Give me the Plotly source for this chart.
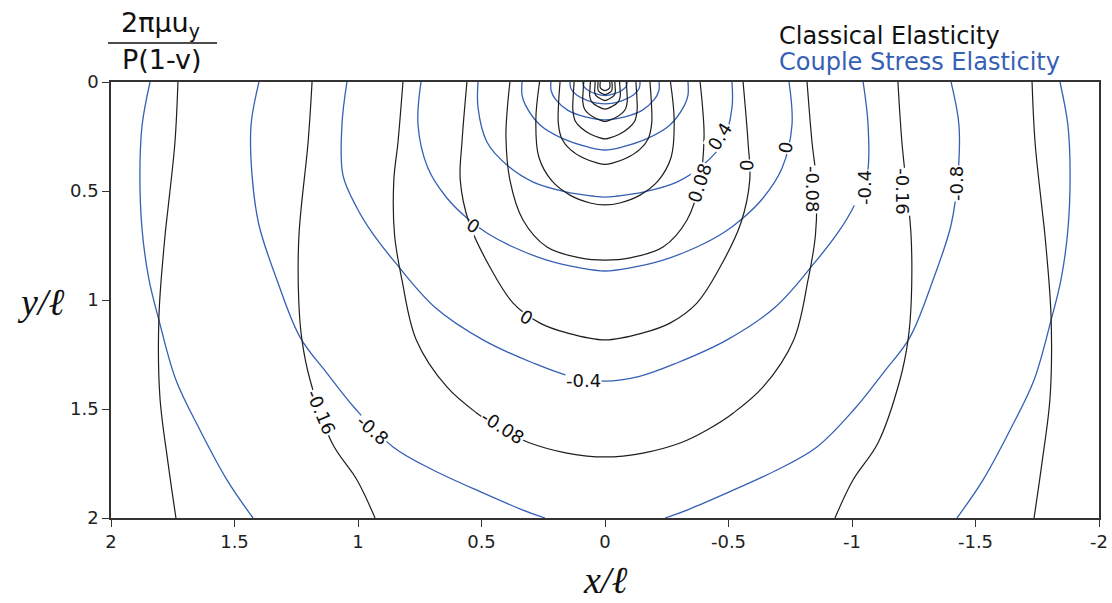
import plotly.graph_objects as go

# ---------------- data ----------------
# Each contour is a half-profile: (depth y/l, half-width |x|/l); curves are symmetric about x = 0.
x_ticks = [2, 1.5, 1, 0.5, 0, -0.5, -1, -1.5, -2]
x_tick_labels = ["2", "1.5", "1", "0.5", "0", "-0.5", "-1", "-1.5", "-2"]
y_ticks = [0, 0.5, 1, 1.5, 2]
y_tick_labels = ["0", "0.5", "1", "1.5", "2"]

# Classical elasticity contours (black)
classical_m024 = [(0, 1.729), (0.275, 1.741), (0.578, 1.769), (0.702, 1.781), (1.078, 1.806),
                  (1.445, 1.802), (1.748, 1.769), (2.0, 1.737)]
classical_m016 = [(0, 1.186), (0.275, 1.202), (0.702, 1.239), (1.0, 1.240), (1.183, 1.227),
                  (1.367, 1.194), (1.656, 1.105), (1.826, 1.004), (2.0, 0.931)]
classical_m008 = [(0, 0.818), (0.275, 0.838), (0.450, 0.855), (0.702, 0.852), (0.908, 0.822),
                  (1.183, 0.764), (1.399, 0.640), (1.518, 0.520), (1.596, 0.413), (1.656, 0.304),
                  (1.702, 0.154), (1.720, 0)]
classical_000 = [(0, 0.559), (0.275, 0.579), (0.450, 0.586), (0.647, 0.550), (0.849, 0.466),
                 (1.014, 0.372), (1.106, 0.263), (1.151, 0.154), (1.183, 0)]
classical_p008 = [(0, 0.385), (0.130, 0.396), (0.252, 0.401), (0.450, 0.385), (0.633, 0.332),
                  (0.757, 0.235), (0.807, 0.101), (0.817, 0)]
classical_p016 = [(0, 0.265), (0.174, 0.280), (0.344, 0.268), (0.455, 0.214), (0.520, 0.140),
                  (0.555, 0.060), (0.564, 0)]
classical_p024 = [(0, 0.182), (0.10, 0.188), (0.19, 0.189), (0.26, 0.175), (0.31, 0.140),
                  (0.35, 0.085), (0.372, 0.030), (0.378, 0)]
classical_p032 = [(0, 0.125), (0.07, 0.129), (0.13, 0.130), (0.18, 0.120), (0.21, 0.097),
                  (0.24, 0.058), (0.256, 0.020), (0.261, 0)]
classical_p040 = [(0, 0.086), (0.05, 0.089), (0.09, 0.090), (0.124, 0.083), (0.145, 0.067),
                  (0.165, 0.040), (0.177, 0.014), (0.181, 0)]
classical_p048 = [(0, 0.059), (0.034, 0.061), (0.062, 0.062), (0.085, 0.057), (0.100, 0.046),
                  (0.113, 0.027), (0.122, 0.010), (0.124, 0)]
classical_p056 = [(0, 0.040), (0.023, 0.041), (0.042, 0.042), (0.058, 0.039), (0.068, 0.031),
                  (0.077, 0.018), (0.083, 0.007), (0.085, 0)]
classical_p064 = [(0, 0.028), (0.016, 0.029), (0.030, 0.029), (0.040, 0.027), (0.047, 0.021),
                  (0.053, 0.012), (0.058, 0)]
classical_p072 = [(0, 0.019), (0.011, 0.020), (0.021, 0.020), (0.028, 0.018), (0.034, 0.012),
                  (0.040, 0)]

# Couple stress elasticity contours (blue)
couple_m12 = [(0, 1.842), (0.197, 1.874), (0.427, 1.883), (0.679, 1.874), (0.908, 1.846),
              (1.092, 1.806), (1.367, 1.737), (1.596, 1.640), (1.826, 1.530), (2.0, 1.425)]
couple_m08 = [(0, 1.401), (0.197, 1.433), (0.427, 1.429), (0.656, 1.401), (0.908, 1.328),
              (1.170, 1.235), (1.335, 1.126), (1.500, 1.010), (1.674, 0.858), (1.780, 0.696),
              (1.885, 0.494), (1.960, 0.340), (2.0, 0.243)]
couple_m04 = [(0, 1.045), (0.197, 1.065), (0.427, 1.061), (0.578, 1.004), (0.688, 0.945),
              (0.830, 0.848), (1.032, 0.690), (1.183, 0.494), (1.289, 0.291), (1.350, 0.140),
              (1.372, 0)]
couple_000 = [(0, 0.745), (0.197, 0.757), (0.394, 0.717), (0.532, 0.640), (0.624, 0.559),
              (0.693, 0.478), (0.757, 0.372), (0.817, 0.235), (0.853, 0.101), (0.867, 0)]
couple_p04 = [(0, 0.514), (0.119, 0.514), (0.275, 0.478), (0.381, 0.397), (0.459, 0.291),
              (0.505, 0.154), (0.523, 0.050), (0.528, 0)]
couple_p08 = [(0, 0.336), (0.060, 0.336), (0.106, 0.322), (0.197, 0.263), (0.260, 0.170),
              (0.298, 0.070), (0.312, 0)]
couple_p12 = [(0, 0.219), (0.040, 0.218), (0.080, 0.200), (0.130, 0.150), (0.160, 0.080),
              (0.174, 0)]
couple_p16 = [(0, 0.142), (0.030, 0.138), (0.060, 0.115), (0.085, 0.070), (0.100, 0)]
couple_p20 = [(0, 0.090), (0.020, 0.086), (0.040, 0.066), (0.055, 0.035), (0.062, 0)]

classical_contours = [classical_m024, classical_m016, classical_m008, classical_000,
                      classical_p008, classical_p016, classical_p024, classical_p032,
                      classical_p040, classical_p048, classical_p056, classical_p064,
                      classical_p072]
couple_contours = [couple_m12, couple_m08, couple_m04, couple_000, couple_p04, couple_p08,
                   couple_p12, couple_p16, couple_p20]

# inline contour labels: (text, x/l, y/l, angle)
classical_labels = [("0.08", -0.385, 0.463, -72), ("0", -0.575, 0.385, -88),
                    ("-0.08", -0.838, 0.495, 90), ("-0.16", -1.206, 0.505, 90),
                    ("0", 0.316, 1.078, 30), ("-0.08", 0.413, 1.587, 32),
                    ("-0.16", 1.150, 1.518, 67)]
couple_labels = [("0.4", -0.466, 0.252, -58), ("0", -0.729, 0.303, -80),
                 ("-0.4", -1.053, 0.486, -90), ("-0.8", -1.425, 0.463, -90),
                 ("0", 0.534, 0.656, 32), ("-0.4", 0.089, 1.367, 0),
                 ("-0.8", 0.943, 1.596, 41)]

BLACK = "#1e1e1e"
BLUE = "#3560b5"
FONT = "DejaVu Sans"

# plot-area geometry in window pixels
L, R, T, B = 111, 1099, 82, 518
FIG_W, FIG_H = 1112, 603


def px_to_paper(px, py):
    return (px - L) / (R - L), (B - py) / (B - T)


def build_curve(profile):
    ys = [p[0] for p in profile]
    ws = [p[1] for p in profile]
    if ws[-1] == 0:  # closed around the load point
        xs = ws + [-w for w in ws[::-1][1:]]
        yy = ys + ys[::-1][1:]
    else:  # leaves through the bottom edge: two branches
        xs = ws + [None] + [-w for w in ws]
        yy = ys + [None] + ys
    return xs, yy


fig = go.Figure()
for prof in couple_contours:
    xs, yy = build_curve(prof)
    fig.add_trace(go.Scatter(x=xs, y=yy, mode="lines",
                             line=dict(color=BLUE, width=1.3, shape="spline", smoothing=1.0),
                             hoverinfo="skip", showlegend=False))
for prof in classical_contours:
    xs, yy = build_curve(prof)
    fig.add_trace(go.Scatter(x=xs, y=yy, mode="lines",
                             line=dict(color=BLACK, width=1.2, shape="spline", smoothing=1.0),
                             hoverinfo="skip", showlegend=False))

annotations = []
for txt, xv, yv, ang in classical_labels + couple_labels:
    annotations.append(dict(x=xv, y=yv, xref="x", yref="y", text=txt, showarrow=False,
                            textangle=ang, font=dict(family=FONT, size=18, color="#111"),
                            bgcolor="white", borderpad=0))


def free_text(txt, px, py, size, color="#111", anchor="center", family=FONT):
    xp, yp = px_to_paper(px, py)
    return dict(xref="paper", yref="paper", x=xp, y=yp, xanchor=anchor, yanchor="middle",
                text=txt, showarrow=False, font=dict(family=family, size=size, color=color))


annotations += [
    free_text("Classical Elasticity", 777, 36, 24, "#111", "left"),
    free_text("Couple Stress Elasticity", 777, 62, 24, BLUE, "left"),
    free_text("2πμu<sub>y</sub>", 160, 24, 27),
    free_text("P(1-v)", 162, 60, 27),
    free_text("<i>y/ℓ</i>", 40, 302, 38, family="Liberation Serif"),
    free_text("<i>x/ℓ</i>", 605, 580, 38, family="Liberation Serif"),
]

lx0, ly = px_to_paper(108, 43)
lx1, _ = px_to_paper(217, 43)
shapes = [dict(type="line", xref="paper", yref="paper", x0=lx0, x1=lx1, y0=ly, y1=ly,
               line=dict(color="#111", width=1.6))]

fig.update_layout(
    width=FIG_W, height=FIG_H,
    margin=dict(l=L, r=FIG_W - R, t=T, b=FIG_H - B),
    paper_bgcolor="white", plot_bgcolor="white",
    annotations=annotations, shapes=shapes,
    showlegend=False,
    xaxis=dict(range=[2, -2], tickvals=x_ticks, ticktext=x_tick_labels, ticks="outside", ticklen=7,
               tickcolor="#333", showline=True, linecolor="#333", linewidth=1.5, mirror=True,
               showgrid=False, zeroline=False, automargin=False,
               tickfont=dict(family=FONT, size=18, color="#222")),
    yaxis=dict(range=[2, 0], tickvals=y_ticks, ticktext=y_tick_labels, ticks="outside", ticklen=7,
               tickcolor="#333", showline=True, linecolor="#333", linewidth=1.5, mirror=True,
               showgrid=False, zeroline=False, automargin=False,
               tickfont=dict(family=FONT, size=18, color="#222")),
)

# remove the page's default body margin so the figure sits at the window's top-left corner
fig.write_html("out.html", config={"displayModeBar": False},
               post_script="document.body.style.margin='0';document.body.style.overflow='hidden';")
